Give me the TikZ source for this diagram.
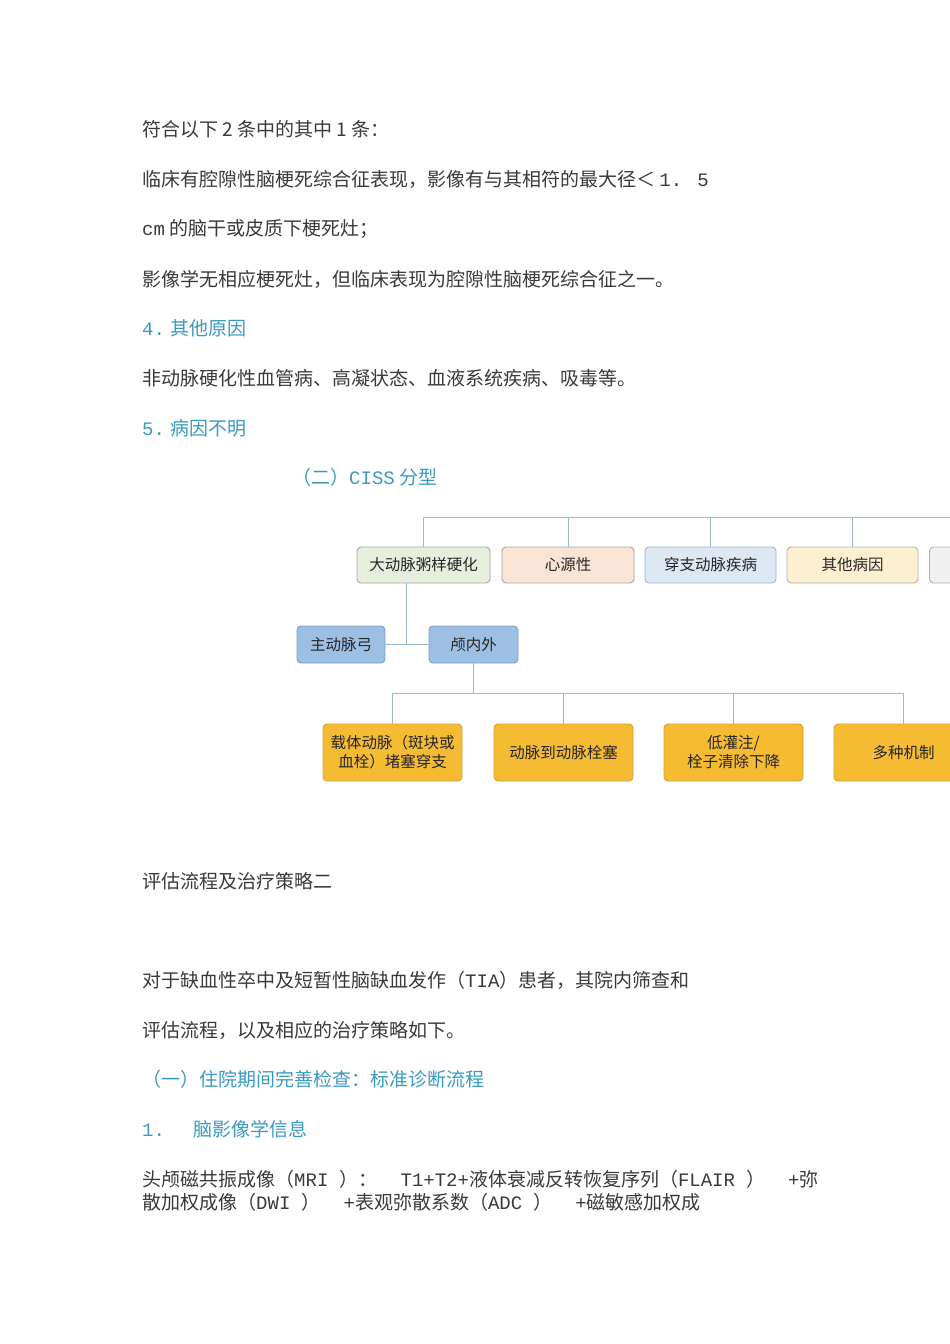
\documentclass[tikz,border=0pt]{standalone}
\usepackage{fontspec}
\setmainfont{Noto Sans CJK SC}
\newfontfamily\mono{Liberation Mono}
\definecolor{txt}{HTML}{3A3A3A}
\definecolor{head}{HTML}{3A9AC0}
\definecolor{ln}{HTML}{9AB8D0}
\definecolor{g1}{HTML}{E6EFDD}
\definecolor{p1}{HTML}{F9E4D6}
\definecolor{bl1}{HTML}{DDE8F3}
\definecolor{y1}{HTML}{FDF0D0}
\definecolor{stb}{HTML}{9DBFE4}
\definecolor{stbd}{HTML}{7C9EC6}
\definecolor{org}{HTML}{F5BB32}
\definecolor{orgd}{HTML}{D8A23A}
\begin{document}
\begin{tikzpicture}[x=1pt,y=-1pt,
  t/.style={anchor=west,text=txt,font=\fontsize{19}{21}\selectfont,inner sep=0},
  h/.style={t,text=head},
  bx/.style={draw,rounded corners=4pt,line width=0.9pt,font=\fontsize{15.5}{19}\selectfont,text=black!85,align=center,inner sep=0},
  cn/.style={draw=ln,line width=1pt}]
\useasboundingbox (0,0) rectangle (950,1344);
\fill[white] (0,0) rectangle (950,1344);
\node[t] (l1) at (142,129) {符合以下 2 条中的其中 1 条：};
\node[t] (l2) at (142,179) {临床有腔隙性脑梗死综合征表现，影像有与其相符的最大径＜ {\mono 1. 5}};
\node[t] (l3) at (142,229) {{\mono cm} 的脑干或皮质下梗死灶；};
\node[t] (l4) at (142,279) {影像学无相应梗死灶，但临床表现为腔隙性脑梗死综合征之一。};
\node[h] (l5) at (142,328) {{\mono 4.} 其他原因};
\node[t] (l6) at (142,378) {非动脉硬化性血管病、高凝状态、血液系统疾病、吸毒等。};
\node[h] (l7) at (142,428) {{\mono 5.} 病因不明};
\node[h] (l8) at (292,477) {（二）{\mono CISS} 分型};
\begin{scope}
\clip (0,500) rectangle (950,800);
\node[bx,draw=black!35,fill=g1,minimum width=133,minimum height=36] (b1) at (423.5,565) {大动脉粥样硬化};
\node[bx,draw=black!35,fill=p1,minimum width=132,minimum height=36] (b2) at (568,565) {心源性};
\node[bx,draw=ln,fill=bl1,minimum width=131,minimum height=36] (b3) at (710.5,565) {穿支动脉疾病};
\node[bx,draw=black!30,fill=y1,minimum width=131,minimum height=36] (b4) at (852.5,565) {其他病因};
\node[bx,draw=black!30,fill=black!6,minimum width=131,minimum height=36] (b5) at (995,565) {};
\draw[cn] (b1.north) |- (1000,517);
\draw[cn] (b2.north) -- (568,517);
\draw[cn] (b3.north) -- (710.5,517);
\draw[cn] (b4.north) -- (852.5,517);
\draw[cn] (b5.north) -- (995,517);
\node[bx,draw=stbd,fill=stb,minimum width=88,minimum height=37] (a1) at (341,644.5) {主动脉弓};
\node[bx,draw=stbd,fill=stb,minimum width=89,minimum height=37] (a2) at (473.5,644.5) {颅内外};
\draw[cn] (406,583) -- (406,644.5);
\draw[cn] (a1.east) -- (a2.west);
\node[bx,draw=orgd,fill=org,minimum width=139,minimum height=57] (c1) at (392.5,752.5) {载体动脉（斑块或\\血栓）堵塞穿支};
\node[bx,draw=orgd,fill=org,minimum width=139,minimum height=57] (c2) at (563.5,752.5) {动脉到动脉栓塞};
\node[bx,draw=orgd,fill=org,minimum width=139,minimum height=57] (c3) at (733.5,752.5) {低灌注/\\栓子清除下降};
\node[bx,draw=orgd,fill=org,minimum width=139,minimum height=57] (c4) at (903.5,752.5) {多种机制};
\draw[cn] (a2.south) -- (473.5,693);
\draw[cn] (c1.north) |- (c4.north |- 0,693) -- (c4.north);
\draw[cn] (c2.north) -- (563.5,693);
\draw[cn] (c3.north) -- (733.5,693);
\end{scope}
\node[t] (m1) at (142,881) {评估流程及治疗策略二};
\node[t] (m2) at (142,980) {对于缺血性卒中及短暂性脑缺血发作（{\mono TIA}）患者，其院内筛查和};
\node[t] (m3) at (142,1030) {评估流程，以及相应的治疗策略如下。};
\node[h] (m4) at (142,1079) {（一）住院期间完善检查：标准诊断流程};
\node[h] (m5) at (142,1129) {{\mono 1.\ \ } 脑影像学信息};
\node[t] (m6) at (142,1179) {头颅磁共振成像（{\mono MRI }）：{\mono\ \ T1+T2+}液体衰减反转恢复序列（{\mono FLAIR }）{\mono\ \ +}弥};
\node[t] (m7) at (142,1202) {散加权成像（{\mono DWI }）{\mono\ \ +}表观弥散系数（{\mono ADC }）{\mono\ \ +}磁敏感加权成};
\end{tikzpicture}
\end{document}
